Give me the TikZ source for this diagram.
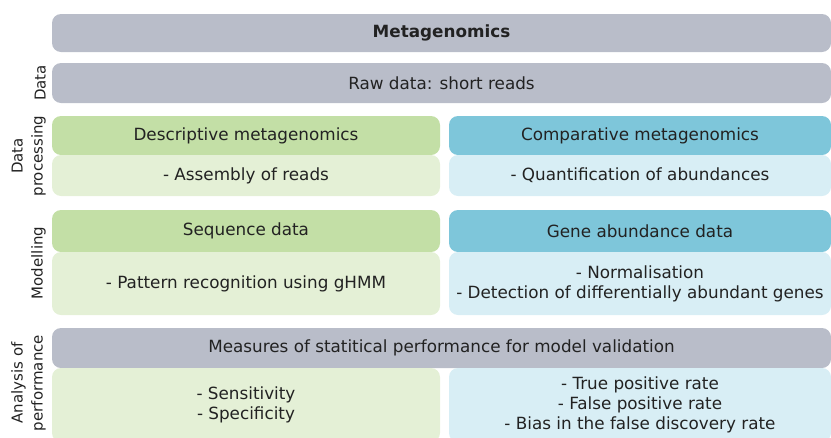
\documentclass[tikz,border=0pt]{standalone}
\usepackage{fontspec}
\setmainfont{DejaVu Sans}
\definecolor{grayband}{HTML}{B9BDC9}
\definecolor{greenhead}{HTML}{C3DFA6}
\definecolor{greenbody}{HTML}{E4F0D6}
\definecolor{bluehead}{HTML}{7EC6DA}
\definecolor{bluebody}{HTML}{D8EEF5}
\definecolor{txt}{HTML}{222222}
\tikzset{
  panel/.style={rectangle, rounded corners=9pt, inner sep=0pt, align=center,
    text=txt, font=\fontsize{16.8}{20}\selectfont},
  fullw/.style={panel, minimum width=779pt},
  halfl/.style={panel, minimum width=388pt},
  halfr/.style={panel, minimum width=382pt},
  sidelabel/.style={rotate=90, anchor=south, align=center, inner sep=0pt,
    text=txt, font=\fontsize{15}{20}\selectfont}
}
\begin{document}
\begin{tikzpicture}[x=1pt,y=-1pt]
  \path[use as bounding box, clip] (0,0) rectangle (831,437);

  % title and raw data
  \node[fullw, fill=grayband, minimum height=38pt] (title) at (441.5,33)
    {\textbf{Metagenomics}};
  \node[fullw, fill=grayband, minimum height=40pt] (raw) at (441.5,83)
    {Raw data: short reads};

  % data processing
  \node[halfl, fill=greenhead, minimum height=39pt] (descH) at (246,135.5)
    {Descriptive metagenomics};
  \node[halfl, fill=greenbody, minimum height=41pt] (descB) at (246,175.5)
    {- Assembly of reads};
  \node[halfr, fill=bluehead, minimum height=39pt] (compH) at (640,135.5)
    {Comparative metagenomics};
  \node[halfr, fill=bluebody, minimum height=41pt] (compB) at (640,175.5)
    {- Quantification of abundances};

  % modelling
  \node[halfl, fill=greenhead, minimum height=42pt] (seqH) at (246,231)
    {Sequence data};
  \node[halfl, fill=greenbody, minimum height=63pt] (seqB) at (246,283.5)
    {- Pattern recognition using gHMM};
  \node[halfr, fill=bluehead, minimum height=42pt] (geneH) at (640,231)
    {Gene abundance data};
  \node[halfr, fill=bluebody, minimum height=63pt] (geneB) at (640,283.5)
    {- Normalisation\\- Detection of differentially abundant genes};

  % analysis of performance
  \node[fullw, fill=grayband, minimum height=40pt] (perf) at (441.5,348)
    {Measures of statitical performance for model validation};
  \node[halfl, fill=greenbody, minimum height=74pt] (sensB) at (246,405)
    {- Sensitivity\\- Specificity};
  \node[halfr, fill=bluebody, minimum height=74pt] (rateB) at (640,405)
    {- True positive rate\\- False positive rate\\- Bias in the false discovery rate};

  % row labels
  \node[sidelabel] (lData) at (46,83) {Data};
  \node[sidelabel] (lProc) at (46,156) {Data\\processing};
  \node[sidelabel] (lMod) at (46,263) {Modelling};
  \node[sidelabel] (lPerf) at (46,383) {Analysis of\\performance};
\end{tikzpicture}
\end{document}
